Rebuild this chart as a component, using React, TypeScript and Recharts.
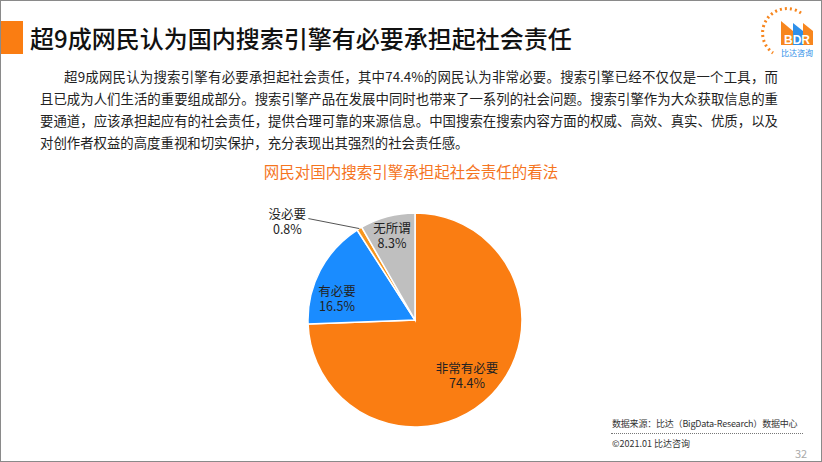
import { Cell, Pie, PieChart } from "recharts";

const categories = ["非常有必要", "有必要", "没必要", "无所谓"];
const shares = [74.4, 16.5, 0.8, 8.3];
const sliceColors = ["#FA7D12", "#1A8CFF", "#F7961E", "#BFBFBF"];

const pieData = categories.map((name, i) => ({ name, value: shares[i] }));

const paragraph = [
  "超9成网民认为搜索引擎有必要承担起社会责任，其中74.4%的网民认为非常必要。搜索引擎已经不仅仅是一个工具，而",
  "且已成为人们生活的重要组成部分。搜索引擎产品在发展中同时也带来了一系列的社会问题。搜索引擎作为大众获取信息的重",
  "要通道，应该承担起应有的社会责任，提供合理可靠的来源信息。中国搜索在搜索内容方面的权威、高效、真实、优质，以及",
  "对创作者权益的高度重视和切实保护，充分表现出其强烈的社会责任感。",
];

const font = "'Noto Sans CJK SC', 'Noto Sans', sans-serif";

// label offsets from the pie centre, tuned by eye
const labelOffset: Record<string, [number, number]> = {
  非常有必要: [52, 49],
  有必要: [-78, -28],
  无所谓: [-23, -91],
};

function renderLabel(props: any) {
  const { cx, cy, midAngle, outerRadius, name, value } = props;
  const txt = `${value.toFixed(1)}%`;
  if (name === "没必要") {
    const rad = (Math.PI / 180) * -midAngle;
    const px = cx + outerRadius * Math.cos(rad);
    const py = cy + outerRadius * Math.sin(rad);
    const tx = px - 72;
    return (
      <g key={name}>
        <polyline
          points={`${px},${py} ${px - 51},${py - 10}`}
          fill="none"
          stroke="#555"
          strokeWidth={1}
        />
        <text x={tx} y={py - 7} textAnchor="middle" fontSize={12.5} fill="#222" fontFamily={font}>
          <tspan x={tx} dy={-3}>{name}</tspan>
          <tspan x={tx} dy={15}>{txt}</tspan>
        </text>
      </g>
    );
  }
  const [dx, dy] = labelOffset[name];
  return (
    <text key={name} x={cx + dx} y={cy + dy} textAnchor="middle" fontSize={12.5} fill="#222" fontFamily={font}>
      <tspan x={cx + dx} dy={4}>{name}</tspan>
      <tspan x={cx + dx} dy={15}>{txt}</tspan>
    </text>
  );
}

function Logo() {
  return (
    <svg width={56} height={56} style={{ position: "absolute", left: 760, top: 4 }}>
      <path
        d="M 40 8 A 22 22 0 1 0 12 48"
        fill="none"
        stroke="#F7861E"
        strokeWidth={3}
        strokeDasharray="2 3"
      />
      <polygon points="20,16 32,26 32,40 20,40" fill="#F7861E" />
      <polygon points="32,18 42,26 42,40 32,40" fill="#2E8FE8" />
      <polygon points="42,18 52,26 52,40 42,40" fill="#F7861E" />
      <text x={36} y={39} textAnchor="middle" fontSize={12} fontWeight="bold" fill="#fff" fontFamily="Arial, 'Liberation Sans', sans-serif">
        BDR
      </text>
      <text x={36} y={51} textAnchor="middle" fontSize={8} fill="#2E8FE8" fontFamily={font}>
        比达咨询
      </text>
    </svg>
  );
}

export default function App() {
  return (
    <div
      style={{
        position: "absolute",
        left: 0,
        top: 0,
        width: 820,
        height: 460,
        border: "1px solid #8a8a8a",
        background: "#fff",
        fontFamily: font,
        overflow: "hidden",
      }}
    >
      <div style={{ position: "absolute", left: 0, top: 20, width: 22, height: 33, background: "#FA7D12" }} />
      <div style={{ position: "absolute", left: 29, top: 22, fontSize: 24, lineHeight: "30px", fontWeight: 500, color: "#111" }}>
        超9成网民认为国内搜索引擎有必要承担起社会责任
      </div>
      <Logo />

      <div style={{ position: "absolute", left: 39, top: 64, width: 738, fontSize: 13.4, lineHeight: "22px", color: "#222" }}>
        {paragraph.map((line, i) => (
          <div
            key={i}
            style={{
              paddingLeft: i === 0 ? 24 : 0,
              textAlign: i < 3 ? "justify" : "left",
              textAlignLast: i < 3 ? "justify" : "auto",
              whiteSpace: "nowrap",
            }}
          >
            {line}
          </div>
        ))}
      </div>

      <div style={{ position: "absolute", left: 0, top: 159, width: 820, textAlign: "center", fontSize: 15.5, color: "#F5751F" }}>
        网民对国内搜索引擎承担起社会责任的看法
      </div>

      <div style={{ position: "absolute", left: 0, top: 0 }}>
        <PieChart width={820} height={460}>
          <Pie
            data={pieData}
            dataKey="value"
            nameKey="name"
            cx={409}
            cy={314}
            outerRadius={107}
            startAngle={90}
            endAngle={-270}
            stroke="#fff"
            strokeWidth={1.5}
            label={renderLabel}
            labelLine={false}
            isAnimationActive={false}
          >
            {pieData.map((d, i) => (
              <Cell key={d.name} fill={sliceColors[i]} />
            ))}
          </Pie>
        </PieChart>
      </div>

      <div style={{ position: "absolute", left: 611, top: 417, fontSize: 9, lineHeight: "12px", letterSpacing: -0.2, whiteSpace: "nowrap", color: "#333" }}>
        数据来源：比达（BigData-Research）数据中心
      </div>
      <div style={{ position: "absolute", left: 610, top: 432, width: 192, borderTop: "1px dotted #777" }} />
      <div style={{ position: "absolute", left: 611, top: 437, fontSize: 9, lineHeight: "12px", whiteSpace: "nowrap", color: "#333" }}>
        ©2021.01 比达咨询
      </div>
      <div style={{ position: "absolute", left: 794, top: 446, fontSize: 11, lineHeight: "13px", color: "#aaa" }}>32</div>
    </div>
  );
}
